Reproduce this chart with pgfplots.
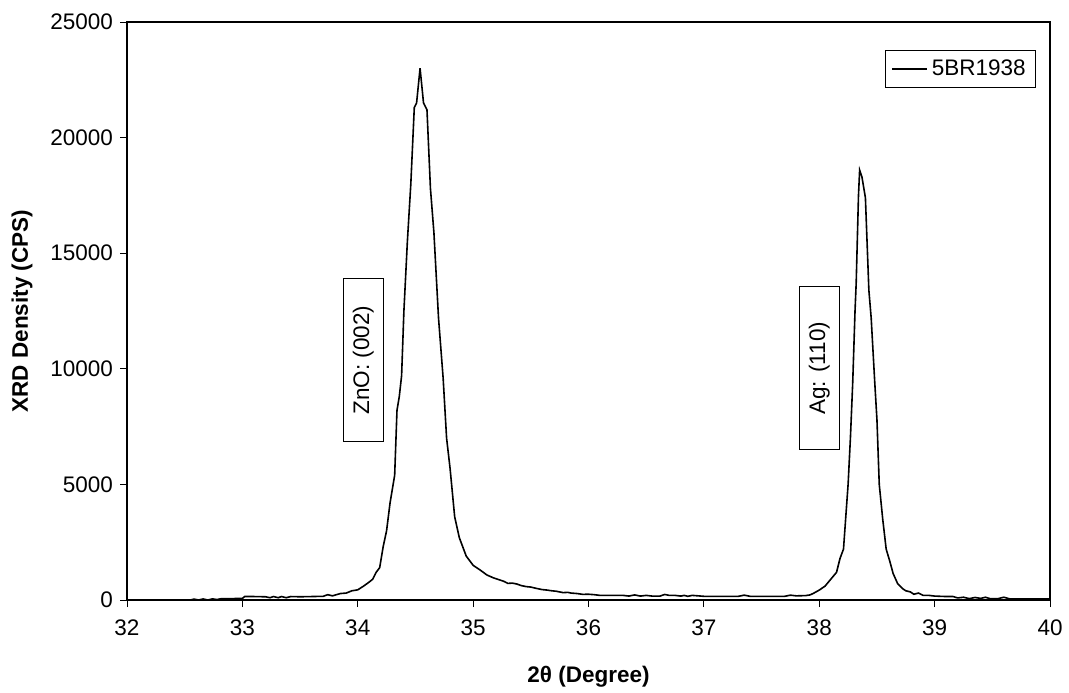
\documentclass[border=0pt]{standalone}
\usepackage{pgfplots}
\pgfplotsset{compat=1.18}
\usepackage{fontspec}
\setmainfont{Liberation Sans}
\newcommand{\chartfont}{\fontsize{11.25}{13.5}\selectfont}
\begin{document}
\begin{tikzpicture}
\begin{axis}[
  scale only axis, width=461.5pt, height=289pt,
  at={(63.5pt,46pt)}, anchor=south west,
  xmin=32, xmax=40, ymin=0, ymax=25000,
  xtick={32,33,...,40}, ytick={0,5000,...,25000},
  tick align=outside, xtick pos=bottom, ytick pos=left,
  major tick length=3.5pt,
  tick style={black, line width=0.5pt},
  axis line style={line width=0.6pt},
  scaled y ticks=false,
  /pgf/number format/1000 sep={},
  /pgf/number format/assume math mode=true,
  ticklabel style={font=\chartfont},
  xticklabel style={yshift=-3pt},
  xlabel={2θ (Degree)}, ylabel={XRD Density (CPS)},
  label style={font=\chartfont\bfseries},
  xlabel style={at={(axis description cs:0.5,-0.1332)}, anchor=center},
  ylabel style={at={(axis description cs:-0.1138,0.5)}, anchor=center},
  legend style={at={(0.985,0.9516)}, anchor=north east, draw=black, line width=0.5pt,
    font=\chartfont, inner xsep=3pt, inner ysep=2.5pt},
  legend image code/.code={\draw[line width=0.8pt] (0pt,0pt) -- (17.5pt,0pt);},
  clip=true,
]
\addplot[black, line width=0.8pt] table {
x y
32.55 0
32.58 40
32.62 0
32.66 45
32.70 0
32.74 50
32.78 20
32.82 60
32.90 60
33.00 70
33.02 150
33.10 150
33.20 140
33.24 100
33.27 150
33.31 100
33.34 150
33.38 100
33.42 150
33.50 140
33.60 150
33.70 160
33.74 230
33.78 180
33.85 280
33.90 300
33.95 400
34.00 440
34.05 600
34.10 780
34.13 900
34.16 1200
34.19 1400
34.22 2300
34.25 3000
34.28 4200
34.30 4800
34.32 5400
34.34 8200
34.36 8800
34.38 9700
34.40 12500
34.43 15500
34.46 18000
34.49 21300
34.51 21500
34.54 23000
34.57 21500
34.60 21200
34.63 17800
34.66 15900
34.70 12200
34.74 9600
34.77 7000
34.80 5700
34.84 3600
34.88 2700
34.91 2300
34.94 1900
34.97 1700
35.00 1500
35.06 1300
35.12 1080
35.18 950
35.23 870
35.27 800
35.30 720
35.34 730
35.38 690
35.42 620
35.46 580
35.50 560
35.55 500
35.60 450
35.64 430
35.68 400
35.72 380
35.78 320
35.82 330
35.85 300
35.90 280
35.95 245
36.00 250
36.05 230
36.10 200
36.30 200
36.35 170
36.40 220
36.45 170
36.50 200
36.55 170
36.62 170
36.66 240
36.70 200
36.75 200
36.80 170
36.83 200
36.86 160
36.90 200
37.00 160
37.20 160
37.30 160
37.35 210
37.40 160
37.60 160
37.70 160
37.75 210
37.80 180
37.88 190
37.92 220
37.95 290
38.00 430
38.05 600
38.10 900
38.15 1200
38.18 1800
38.21 2200
38.23 3600
38.25 5000
38.27 7000
38.29 9400
38.31 12500
38.32 13700
38.34 17500
38.35 18600
38.37 18300
38.40 17400
38.43 13400
38.45 12200
38.48 9500
38.50 7800
38.52 5000
38.55 3500
38.58 2200
38.61 1700
38.64 1150
38.68 700
38.72 500
38.75 400
38.79 350
38.82 250
38.86 300
38.90 200
38.95 200
39.00 170
39.10 150
39.16 150
39.20 90
39.25 120
39.30 60
39.35 110
39.40 70
39.44 120
39.48 60
39.55 60
39.60 120
39.65 50
39.80 50
40.00 50
};
\addlegendentry{5BR1938}
\node[draw, line width=0.5pt, rotate=90, minimum width=81.5pt, minimum height=20pt, font=\chartfont, fill=white]
  at (axis cs:34.048,10380) {ZnO: (002)};
\node[draw, line width=0.5pt, rotate=90, minimum width=81.5pt, minimum height=20pt, font=\chartfont, fill=white]
  at (axis cs:38.0,10020) {Ag: (110)};
\end{axis}
\pgfresetboundingbox
\path[use as bounding box] (0,0) rectangle (534.5pt,346pt);
\end{tikzpicture}
\end{document}
